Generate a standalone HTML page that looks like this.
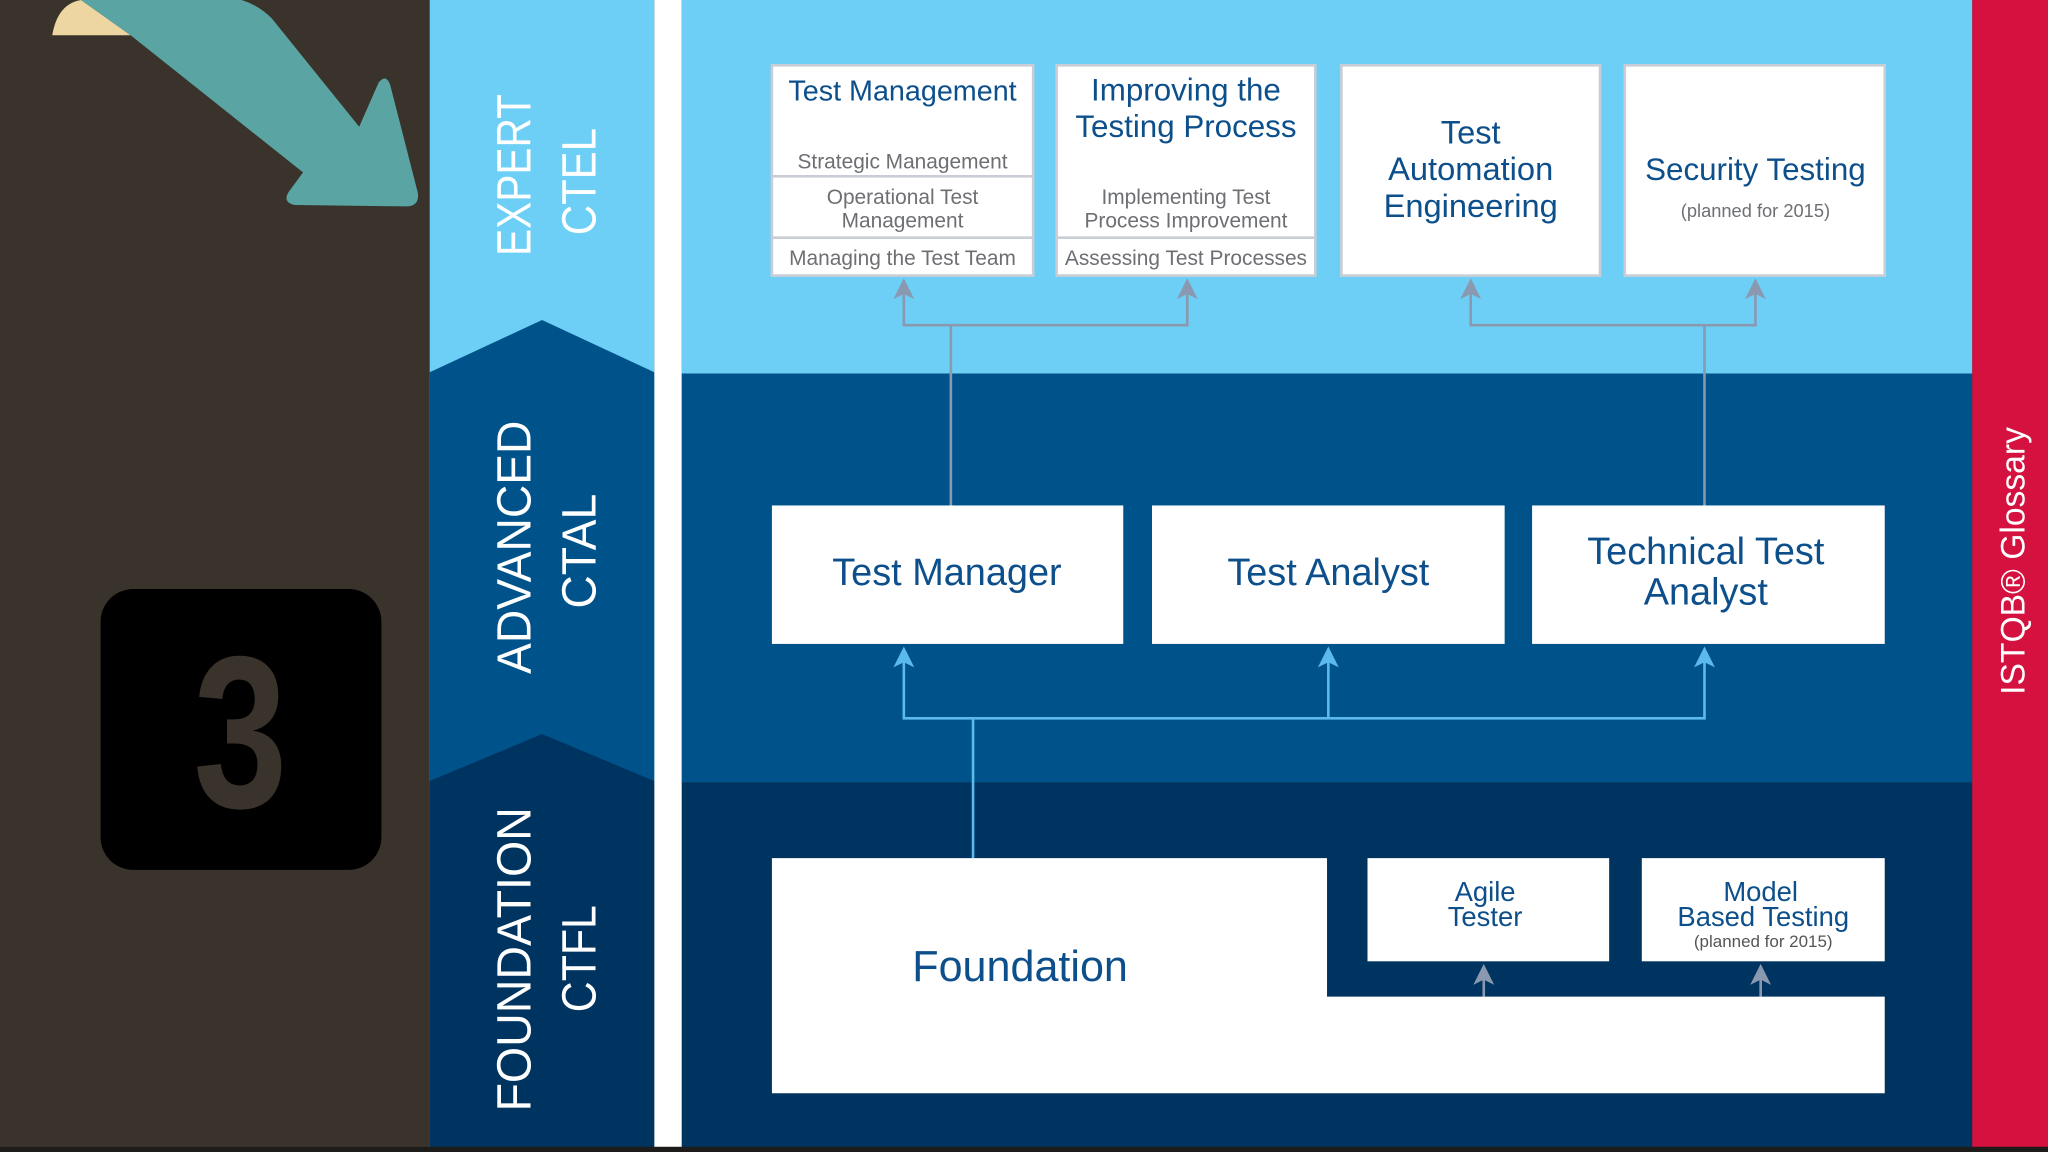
<!DOCTYPE html>
<html><head><meta charset="utf-8"><style>
html,body{margin:0;padding:0;background:#3a332b;}
svg{display:block;}
text{font-family:"Liberation Sans","DejaVu Sans",sans-serif;}
</style></head><body>
<svg width="2048" height="1152" viewBox="0 0 1568 882" preserveAspectRatio="none" xmlns="http://www.w3.org/2000/svg">
<rect width="1568" height="882" fill="#3a332b"/>
<!-- beige + teal arrow -->
<path d="M40,27 Q44,3 62,0 L100,27 Z" fill="#eed6a2"/>
<path d="M62,0 L185,0 Q198,4 208,14 L275,97 L290,63 Q296,56 299,66 L320,148 Q321,158 311,158 L226,157 Q216,155 221,147 L232,132 L100,27 Z" fill="#5aa5a3"/>
<!-- 3 box -->
<rect x="77" y="451" width="215" height="215" rx="25" fill="#000"/>
<text x="148" y="618" font-size="166" font-weight="bold" fill="#3a332b" font-family="DejaVu Sans" textLength="72" lengthAdjust="spacingAndGlyphs">3</text>
<!-- left band -->
<rect x="329" y="0" width="172" height="882" fill="#6dcff5"/>
<path d="M329,285 L415,245 L501,285 L501,882 L329,882 Z" fill="#00528a"/>
<path d="M329,598 L415,562 L501,598 L501,882 L329,882 Z" fill="#003460"/>
<rect x="501" y="0" width="21" height="882" fill="#fff"/>
<!-- main -->
<rect x="522" y="0" width="988" height="286" fill="#6dcff5"/>
<rect x="522" y="286" width="988" height="313" fill="#00528a"/>
<rect x="522" y="599" width="988" height="283" fill="#003460"/>
<rect x="1510" y="0" width="58" height="882" fill="#d4113f"/>
<rect x="0" y="878" width="1568" height="4" fill="#1e1c1a"/>
<!-- vertical labels -->
<g fill="#fff" font-size="37">
<text transform="translate(406,196) rotate(-90)" textLength="124" lengthAdjust="spacingAndGlyphs">EXPERT</text>
<text transform="translate(456,180) rotate(-90)" textLength="82" lengthAdjust="spacingAndGlyphs">CTEL</text>
<text transform="translate(406,516) rotate(-90)" textLength="194" lengthAdjust="spacingAndGlyphs">ADVANCED</text>
<text transform="translate(456,466) rotate(-90)" textLength="88" lengthAdjust="spacingAndGlyphs">CTAL</text>
<text transform="translate(406,851) rotate(-90)" textLength="233" lengthAdjust="spacingAndGlyphs">FOUNDATION</text>
<text transform="translate(456,775) rotate(-90)" textLength="82" lengthAdjust="spacingAndGlyphs">CTFL</text>
<text transform="translate(1550,532) rotate(-90)" font-size="26" textLength="205" lengthAdjust="spacingAndGlyphs">ISTQB® Glossary</text>
</g>
<!-- expert boxes -->
<g stroke="#c9ced6" stroke-width="2" fill="#fff">
<rect x="591" y="50" width="200" height="161"/>
<rect x="809" y="50" width="198" height="161"/>
<rect x="1027" y="50" width="198" height="161"/>
<rect x="1244" y="50" width="199" height="161"/>
<line x1="591" y1="135" x2="791" y2="135"/>
<line x1="591" y1="182" x2="791" y2="182"/>
<line x1="809" y1="182" x2="1007" y2="182"/>
</g>
<g fill="#0d4f8b" text-anchor="middle" font-size="22">
<text x="691" y="77">Test Management</text>
<text x="908" y="77" font-size="24">Improving the</text>
<text x="908" y="105" font-size="24">Testing Process</text>
<text x="1126" y="110" font-size="25">Test</text>
<text x="1126" y="138" font-size="25">Automation</text>
<text x="1126" y="166" font-size="25">Engineering</text>
<text x="1344" y="138" font-size="24">Security Testing</text>
</g>
<g fill="#6d6f73" text-anchor="middle" font-size="16">
<text x="691" y="129">Strategic Management</text>
<text x="691" y="156">Operational Test</text>
<text x="691" y="174">Management</text>
<text x="691" y="203">Managing the Test Team</text>
<text x="908" y="156">Implementing Test</text>
<text x="908" y="174">Process Improvement</text>
<text x="908" y="203">Assessing Test Processes</text>
<text x="1344" y="166" font-size="14">(planned for 2015)</text>
</g>
<!-- gray connectors expert -->
<g stroke="#8a98b0" stroke-width="2" fill="none">
<path d="M692,222 L692,249 L909,249 L909,222"/>
<line x1="728" y1="249" x2="728" y2="387"/>
<path d="M1126,222 L1126,249 L1344,249 L1344,222"/>
<line x1="1305" y1="249" x2="1305" y2="387"/>
<line x1="1136" y1="763" x2="1136" y2="748"/>
<line x1="1348" y1="763" x2="1348" y2="748"/>
</g>
<g fill="#8a98b0">
<path d="M692,213 L700,229 L692,225 L684,229 Z"/>
<path d="M909,213 L917,229 L909,225 L901,229 Z"/>
<path d="M1126,213 L1134,229 L1126,225 L1118,229 Z"/>
<path d="M1344,213 L1352,229 L1344,225 L1336,229 Z"/>
<path d="M1136,738 L1144,754 L1136,750 L1128,754 Z"/>
<path d="M1348,738 L1356,754 L1348,750 L1340,754 Z"/>
</g>
<!-- advanced boxes -->
<g fill="#fff">
<rect x="591" y="387" width="269" height="106"/>
<rect x="882" y="387" width="270" height="106"/>
<rect x="1173" y="387" width="270" height="106"/>
</g>
<g fill="#0d4f8b" text-anchor="middle" font-size="29">
<text x="725" y="448">Test Manager</text>
<text x="1017" y="448">Test Analyst</text>
<text x="1306" y="432">Technical Test</text>
<text x="1306" y="463">Analyst</text>
</g>
<g stroke="#5bb9ee" stroke-width="2" fill="none">
<path d="M692,505 L692,550 L1305,550 L1305,505"/>
<line x1="1017" y1="550" x2="1017" y2="505"/>
<line x1="745" y1="550" x2="745" y2="657"/>
</g>
<g fill="#5bb9ee">
<path d="M692,495 L700,511 L692,507 L684,511 Z"/>
<path d="M1017,495 L1025,511 L1017,507 L1009,511 Z"/>
<path d="M1305,495 L1313,511 L1305,507 L1297,511 Z"/>
</g>
<!-- foundation -->
<path d="M591,657 L1016,657 L1016,763 L1443,763 L1443,837 L591,837 Z" fill="#fff"/>
<rect x="1047" y="657" width="185" height="79" fill="#fff"/>
<rect x="1257" y="657" width="186" height="79" fill="#fff"/>
<g fill="#0d4f8b" text-anchor="middle">
<text x="781" y="751" font-size="33">Foundation</text>
<text x="1137" y="690" font-size="21">Agile</text>
<text x="1137" y="709" font-size="21">Tester</text>
<text x="1348" y="690" font-size="21">Model</text>
<text x="1350" y="709" font-size="21">Based Testing</text>
<text x="1350" y="725" font-size="13" fill="#555">(planned for 2015)</text>
</g>
</svg>
</body></html>
